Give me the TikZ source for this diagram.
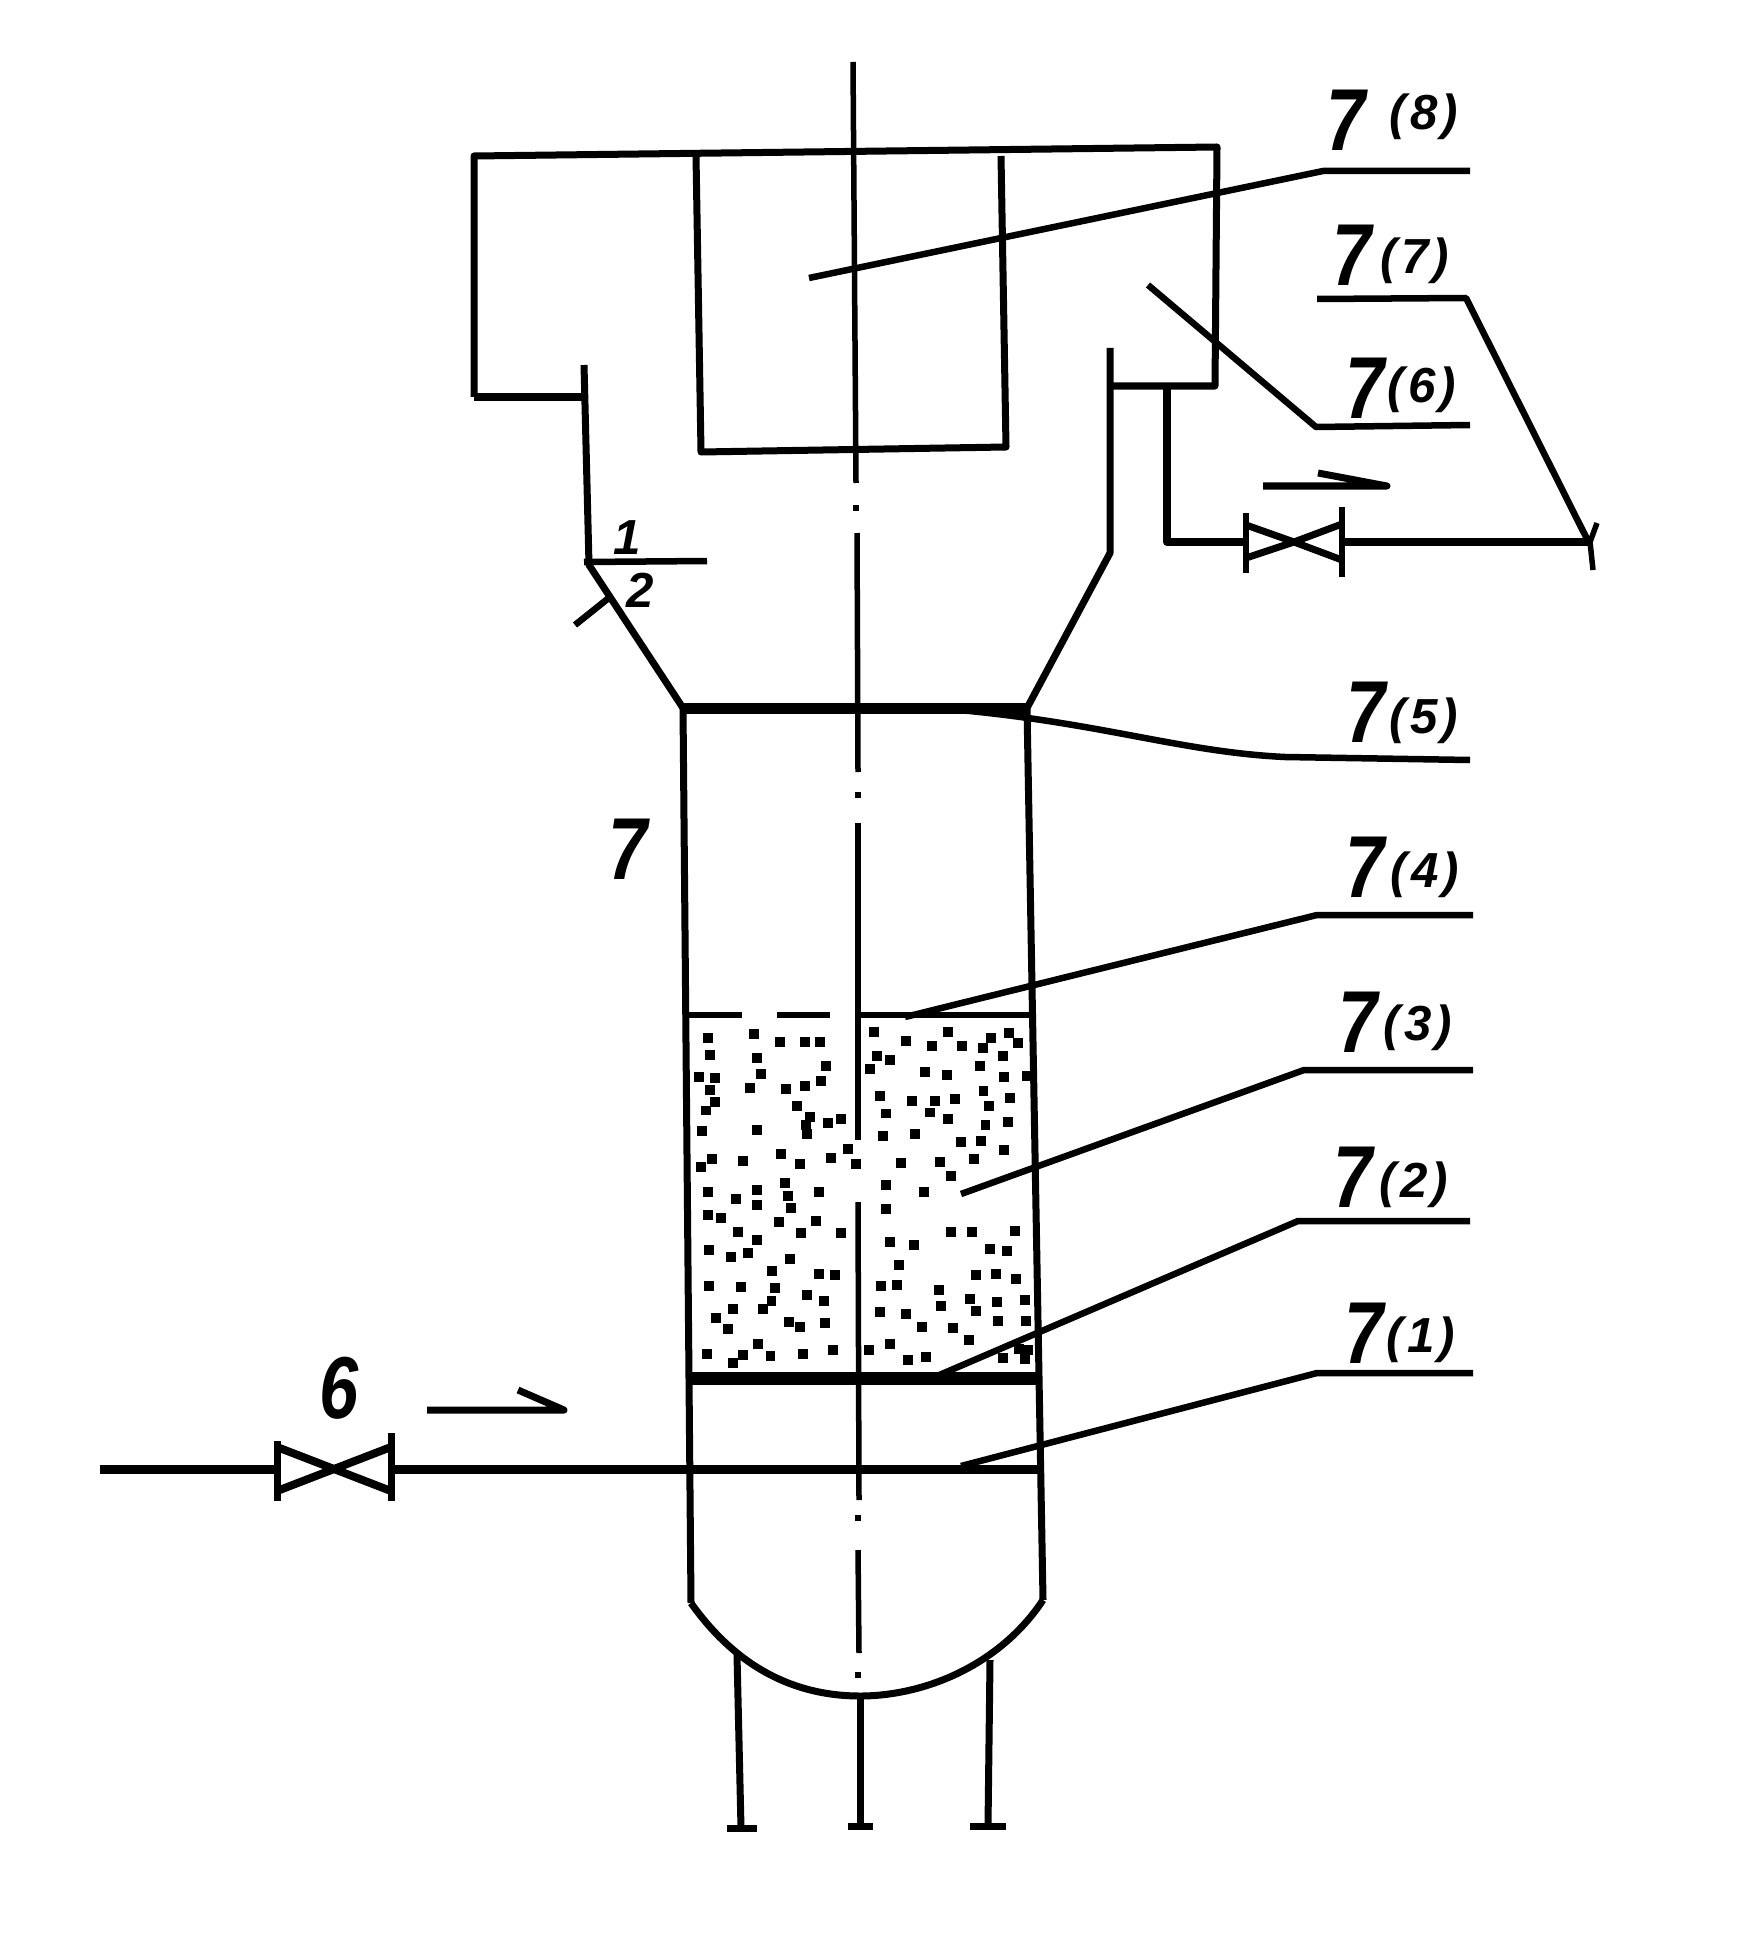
\documentclass[tikz,border=0pt]{standalone}
\usepackage{fontspec}
\setmainfont{Liberation Sans}
\newfontfamily\numfont{Liberation Sans}[FakeStretch=0.8]
\newcommand{\sub}[1]{(\kern1.2pt#1\kern1.2pt)}
\tikzset{
	wall/.style={line width=0.07cm,line join=round},
	thin wall/.style={line width=0.055cm,line join=round},
	plate/.style={line width=0.11cm},
	leader/.style={line width=0.065cm,line join=round},
	bignum/.style={inner sep=0,font=\numfont\fontsize{25}{25}\selectfont\bfseries\itshape},
	subnum/.style={inner sep=0,font=\fontsize{14}{14}\selectfont\bfseries\itshape}
}
\begin{document}
\begin{tikzpicture}[x=0.01cm,y=-0.01cm]
	\useasboundingbox (0,0) rectangle (1760,1952);

	% head
	\coordinate (A) at (474,156);
	\coordinate (B) at (1217,147);
	\coordinate (C) at (1215,386);
	\coordinate (D) at (1110,386);
	\coordinate (E) at (1110,348);
	\coordinate (F) at (1110,553);
	\coordinate (G) at (1027,708);
	\coordinate (H) at (474,397);
	\coordinate (I) at (584,397);
	\coordinate (J) at (584,365);
	\coordinate (K) at (589,565);
	\coordinate (L) at (683,708);
	\draw[wall] (H) -- (A) -- (B) -- (C) -- (D);
	\draw[wall] (H) -- (I);
	\draw[wall] (J) -- (K) -- (L);
	\draw[wall] (E) -- (F) -- (G);

	% inner box
	\coordinate (M) at (696,156);
	\coordinate (N) at (701,452);
	\coordinate (O) at (1006,447);
	\coordinate (P) at (1001,156);
	\draw[wall] (M) -- (N) -- (O) -- (P);

	% vessel
	\coordinate (Q) at (691,1603);
	\coordinate (R) at (1043,1600);
	\coordinate (S) at (860,1696);
	\draw[wall] (L) -- (Q);
	\draw[wall] (G) -- (R);
	\draw[wall] (Q) .. controls (740,1672) and (800,1696) .. (S) .. controls (925,1696) and (1000,1665) .. (R);

	% plates
	\coordinate (T) at (1036,1015);
	\coordinate (V) at (686,1378);
	\coordinate (W) at (1040,1378);
	\draw[plate] (L) -- (G);
	\foreach \xa/\xb in {685/742,777/830,855/1036}
		\draw[thin wall] (\xa,1015) -- (\xb,1015);
	\draw[line width=0.13cm] (V) -- (W);

	% bed
	\begin{scope}[shift={(660,1000)},x=0.00333cm,y=-0.00333cm]
		\foreach \px/\py in {145/115,150/165,282/103,362/125,435/125,480/127,290/175,498/198,118/232,165/235,150/270,165/305,303/222,270/265,378/268,435/258,483/243,412/317,137/332,450/352,545/357,505/370,125/393,292/392,442/402,440/375,565/448,155/477,122/502,248/485,365/463,422/492,515/475,590/492,143/577,290/570,290/615,375/550,385/590,395/625,478/577,228/597,145/645,182/654,357/668,470/663,235/697,290/722,424/699,545/700,147/752,214/772,263/760,390/777,337/814,477/824,527/825,148/860,243/863,345/866,443/887,493/904,220/928,310/928,335/905,168/955,205/990,387/968,420/984,496/970,293/1035,140/1065,250/1066,332/1070,430/1065,520/1053,218/1090,643/95,740/124,817/137,865/95,908/138,995/115,1050/100,1075/130,970/143,1030/168,652/167,692/180,632/208,962/198,795/215,862/225,1035/232,1102/228,972/274,662/287,758/302,827/302,885/297,1052/295,990/318,680/341,810/338,865/357,1045/366,978/377,670/408,765/402,905/428,965/425,1033/450,943/478,725/490,840/487,875/530,678/557,793/578,678/629,875/697,937/698,1067/695,692/727,763/735,993/748,1042/753,717/795,948/826,1010/823,1070/839,665/858,711/857,837/872,930/897,1012/908,1097/900,845/920,660/938,740/942,948/935,1015/965,1100/965,788/984,880/985,927/1023,690/1034,628/1052,1105/1052,1030/1075,745/1082,800/1072,1078/1050,1097/1078}
			\fill (\px-15,\py-15) rectangle (\px+15,\py+15);
	\end{scope}

	% center line
	\coordinate (AA) at (853,62);
	\coordinate (AB) at (856,483);
	\coordinate (AC) at (860,1830);
	\draw[thin wall] (AA) -- (AB);
	\foreach \xa/\ya/\xb/\yb in {856/505/856/511,857/533/858/772,858/792/858/798,858/823/858/1140,858/1161/858/1167,858/1202/859/1500,858/1515/858/1521,858/1550/859/1653,858/1672/858/1678}
		\draw[thin wall] (\xa,\ya) -- (\xb,\yb);

	% legs
	\coordinate (AD) at (737,1655);
	\coordinate (AE) at (741,1828);
	\coordinate (AF) at (727,1828);
	\coordinate (AG) at (757,1828);
	\coordinate (AH) at (990,1660);
	\coordinate (AI) at (988,1826);
	\coordinate (AJ) at (970,1826);
	\coordinate (AK) at (1006,1826);
	\coordinate (AL) at (848,1826);
	\coordinate (AM) at (873,1826);
	\draw[wall] (AD) -- (AE);
	\draw[wall] (AF) -- (AG);
	\draw[wall] (S) -- (AC);
	\draw[wall] (AL) -- (AM);
	\draw[wall] (AH) -- (AI);
	\draw[wall] (AJ) -- (AK);

	% inlet pipe
	\coordinate (AN) at (100,1469);
	\coordinate (AO) at (277,1469);
	\coordinate (AP) at (391,1469);
	\coordinate (AQ) at (1042,1469);
	\coordinate (AR) at (334,1469);
	\draw[line width=0.09cm] (AN) -- (AO);
	\draw[line width=0.09cm] (AP) -- (AQ);
	\draw[wall] (277,1441) -- (277,1501) (391,1433) -- (391,1501);
	\draw[line width=0.08cm,line join=round] (277,1447) -- (AR) -- (277,1491);
	\draw[line width=0.08cm,line join=round] (391,1447) -- (AR) -- (391,1491);
	\coordinate (AS) at (427,1410);
	\coordinate (AT) at (564,1410);
	\coordinate (AU) at (518,1390);
	\draw[wall] (AS) -- (AT) -- (AU);

	% outlet pipe
	\coordinate (BA) at (1167,386);
	\coordinate (BB) at (1167,542);
	\coordinate (BC) at (1246,542);
	\coordinate (BD) at (1342,542);
	\coordinate (BE) at (1590,542);
	\coordinate (BF) at (1294,542);
	\draw[line width=0.08cm,line join=round] (BA) -- (BB) -- (BC);
	\draw[line width=0.07cm] (BD) -- (BE);
	\draw[thin wall] (1246,513) -- (1246,573) (1342,507) -- (1342,577);
	\draw[wall] (1246,525) -- (BF) -- (1246,558);
	\draw[wall] (1342,524) -- (BF) -- (1342,560);
	\coordinate (BG) at (1597,523);
	\coordinate (BH) at (1593,570);
	\draw[thin wall] (BG) -- (BE) -- (BH);
	\coordinate (BI) at (1263,486);
	\coordinate (BJ) at (1387,486);
	\coordinate (BK) at (1318,473);
	\draw[wall] (BI) -- (BJ) -- (BK);

	% leaders
	\coordinate (CA) at (809,278);
	\coordinate (CB) at (1323,171);
	\coordinate (CC) at (1470,171);
	\draw[leader] (CA) -- (CB) -- (CC);
	\coordinate (CD) at (1317,299);
	\coordinate (CE) at (1466,298);
	\coordinate (CF) at (1587,539);
	\draw[leader] (CD) -- (CE) -- (CF);
	\coordinate (CG) at (1148,285);
	\coordinate (CH) at (1316,427);
	\coordinate (CI) at (1470,425);
	\draw[leader] (CG) -- (CH) -- (CI);
	\coordinate (CJ) at (948,709);
	\coordinate (CK) at (1285,757);
	\coordinate (CL) at (1470,760);
	\draw[leader] (CJ) .. controls (1100,722) and (1180,752) .. (CK) -- (CL);
	\coordinate (CM) at (905,1017);
	\coordinate (CN) at (1317,915);
	\coordinate (CO) at (1473,915);
	\draw[leader] (CM) -- (CN) -- (CO);
	\coordinate (CP) at (961,1194);
	\coordinate (CQ) at (1304,1070);
	\coordinate (CR) at (1473,1070);
	\draw[leader] (CP) -- (CQ) -- (CR);
	\coordinate (CS) at (930,1379);
	\coordinate (CT) at (1298,1221);
	\coordinate (CU) at (1470,1221);
	\draw[leader] (CS) -- (CT) -- (CU);
	\coordinate (CV) at (961,1466);
	\coordinate (CW) at (1317,1373);
	\coordinate (CX) at (1473,1373);
	\draw[leader] (CV) -- (CW) -- (CX);

	% cone mark
	\coordinate (DA) at (584,562);
	\coordinate (DB) at (707,561);
	\coordinate (DC) at (575,625);
	\coordinate (DD) at (610,597);
	\draw[leader] (DA) -- (DB);
	\draw[leader] (DC) -- (DD);
	\node (n1) at (627,538) [subnum] {1};
	\node (n2) at (640,590) [subnum] {2};

	% labels
	\node (t7) at (628,849) [bignum] {7};
	\node (t6) at (339,1388) [bignum] {6};
	\node (a8) at (1346,120) [bignum] {7};
	\node (b8) at (1424,117) [subnum] {\sub{8}};
	\node (a7) at (1352,255) [bignum] {7};
	\node (b7) at (1415,261) [subnum] {\sub{7}};
	\node (a6) at (1365,388) [bignum] {7};
	\node (b6) at (1422,390) [subnum] {\sub{6}};
	\node (a5) at (1366,712) [bignum] {7};
	\node (b5) at (1424,721) [subnum] {\sub{5}};
	\node (a4) at (1365,867) [bignum] {7};
	\node (b4) at (1425,875) [subnum] {\sub{4}};
	\node (a3) at (1358,1022) [bignum] {7};
	\node (b3) at (1418,1028) [subnum] {\sub{3}};
	\node (a2) at (1353,1177) [bignum] {7};
	\node (b2) at (1414,1185) [subnum] {\sub{2}};
	\node (a1) at (1364,1333) [bignum] {7};
	\node (b1) at (1421,1340) [subnum] {\sub{1}};
\end{tikzpicture}
\end{document}
